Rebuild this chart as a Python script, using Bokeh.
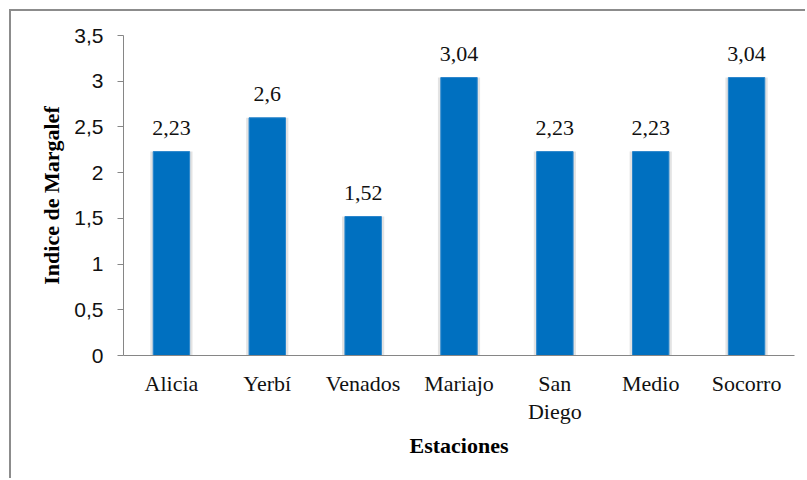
from bokeh.plotting import figure
from bokeh.models import ColumnDataSource, FactorRange, Range1d, FixedTicker, CustomJSTickFormatter, LabelSet
from bokeh.core.properties import value
from bokeh.embed import file_html
from bokeh.resources import INLINE

estaciones = ["Alicia", "Yerbí", "Venados", "Mariajo", "San\nDiego", "Medio", "Socorro"]
margalef = [2.23, 2.6, 1.52, 3.04, 2.23, 2.23, 3.04]
etiquetas = [str(v).replace(".", ",") for v in margalef]
y_ticks = [0, 0.5, 1, 1.5, 2, 2.5, 3, 3.5]

src = ColumnDataSource(dict(x=estaciones, y=margalef, t=etiquetas))

p = figure(width=796, height=469, x_range=FactorRange(*estaciones), y_range=Range1d(0, 3.5),
           output_backend="svg", toolbar_location=None,
           min_border_left=112, min_border_right=13, min_border_top=24, min_border_bottom=125)
p.margin = (9, 0, 0, 9)
p.styles = {"border-top": "2px solid #8c8c8c", "border-left": "2px solid #8c8c8c"}
p.outline_line_color = None
p.grid.grid_line_color = None
p.x_range.range_padding = 0

p.vbar(x="x", top="y", width=0.44, source=src, fill_color="#e3e3e3", line_color=None)
p.vbar(x="x", top="y", width=0.38, source=src, fill_color="#0070C0", line_color="#2a86cc", line_width=1)

labels = LabelSet(x="x", y="y", text="t", source=src, text_align="center", text_baseline="middle",
                  y_offset=24, text_font=value("Liberation Serif"), text_font_size=value("22px"),
                  text_color="#111111")
p.add_layout(labels)

p.yaxis.ticker = FixedTicker(ticks=y_ticks)
p.yaxis.formatter = CustomJSTickFormatter(code="return tick.toString().replace('.', ',');")
p.yaxis.axis_line_color = "#868686"
p.yaxis.major_tick_line_color = "#868686"
p.yaxis.major_tick_out = 6
p.yaxis.major_tick_in = 0
p.yaxis.minor_tick_line_color = None
p.yaxis.major_label_text_font = "Liberation Sans"
p.yaxis.major_label_text_font_size = "21px"
p.yaxis.major_label_text_color = "#111111"
p.yaxis.major_label_standoff = 14
p.yaxis.axis_label = "Indice de Margalef"
p.yaxis.axis_label_text_font = "Liberation Serif"
p.yaxis.axis_label_text_font_style = "bold"
p.yaxis.axis_label_text_font_size = "22px"
p.yaxis.axis_label_text_color = "#000000"
p.yaxis.axis_label_standoff = 7

p.xaxis.axis_line_color = "#868686"
p.xaxis.major_tick_line_color = None
p.xaxis.minor_tick_line_color = None
p.xaxis.major_label_text_font = "Liberation Serif"
p.xaxis.major_label_text_font_size = "22px"
p.xaxis.major_label_text_color = "#111111"
p.xaxis.major_label_text_line_height = 1.15
p.xaxis.major_label_standoff = 9
p.xaxis.axis_label = "Estaciones"
p.xaxis.axis_label_text_font = "Liberation Serif"
p.xaxis.axis_label_text_font_style = "bold"
p.xaxis.axis_label_text_font_size = "22px"
p.xaxis.axis_label_text_color = "#000000"
p.xaxis.axis_label_standoff = 6

open("out.html", "w").write(file_html(p, INLINE))
